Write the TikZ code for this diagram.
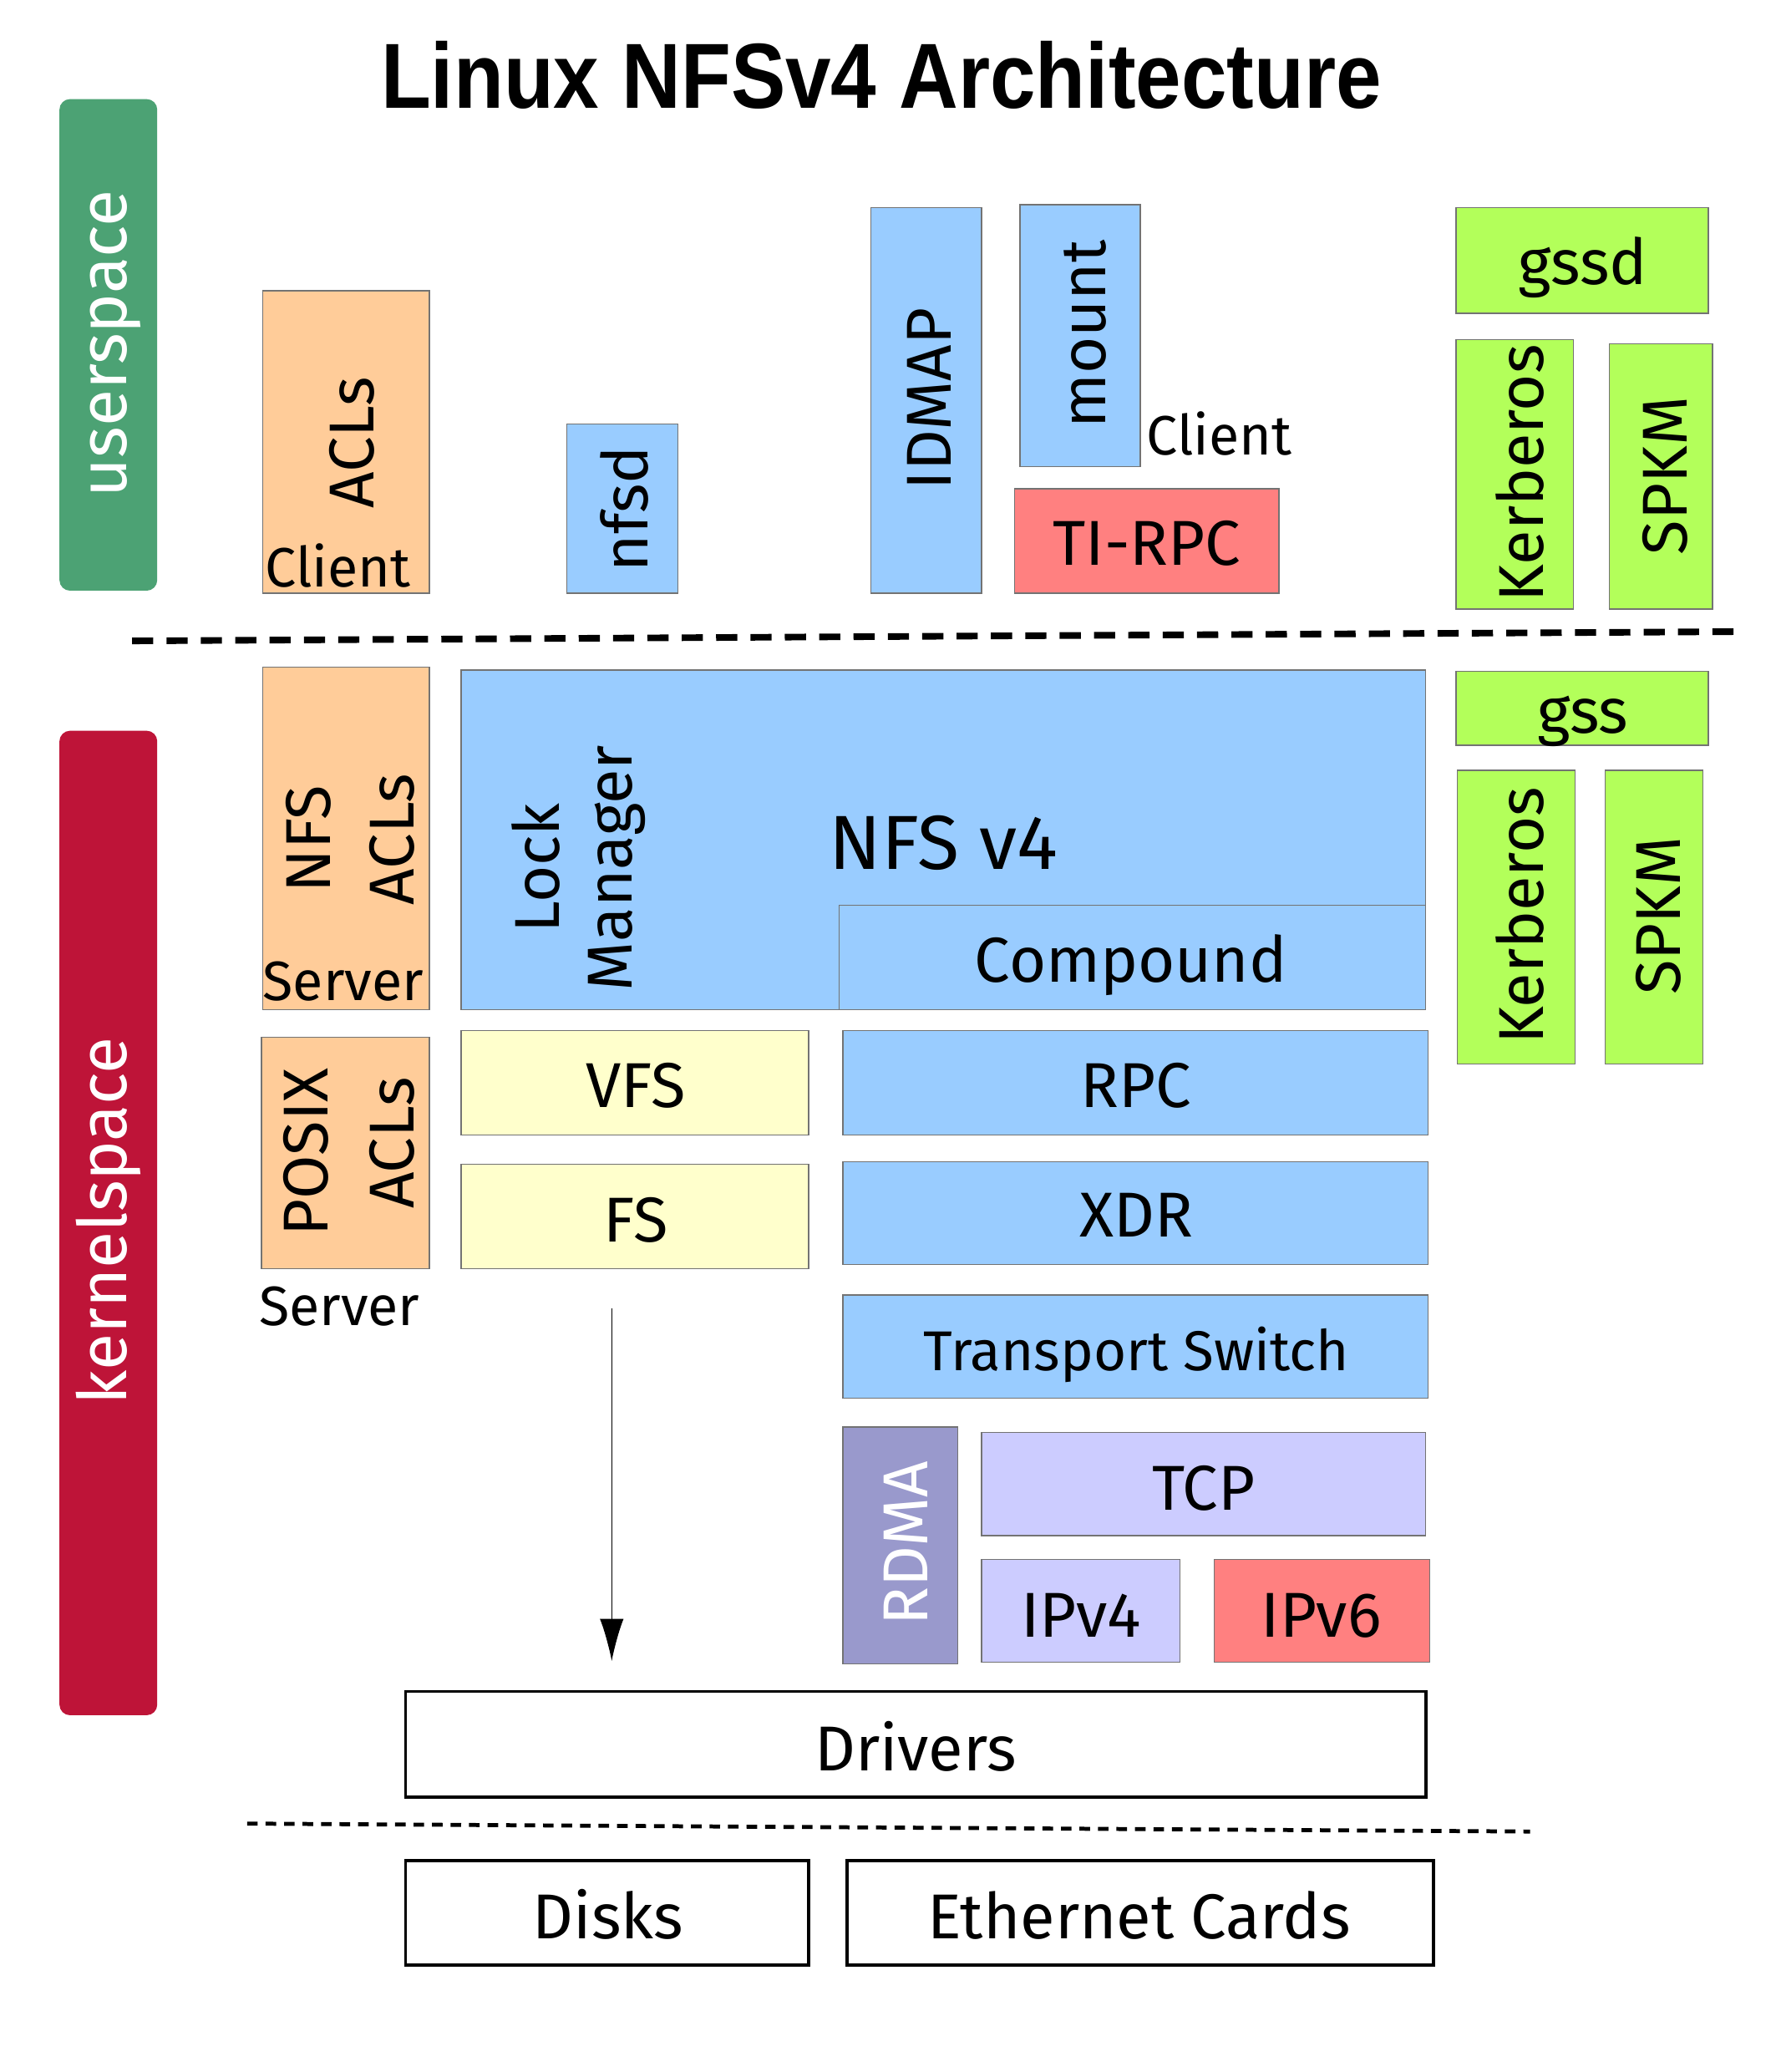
\documentclass[tikz,border=0pt]{standalone}
\usepackage{fontspec}
\setmainfont{Fira Sans}
\newfontfamily\titlefont{Liberation Sans}
\usetikzlibrary{arrows.meta}
\definecolor{peach}{HTML}{FFCC99}
\definecolor{lblue}{HTML}{99CCFF}
\definecolor{lyellow}{HTML}{FFFFCC}
\definecolor{salmon}{HTML}{FF8080}
\definecolor{lime}{HTML}{B3FF5A}
\definecolor{lavender}{HTML}{CCCCFF}
\definecolor{rdmac}{HTML}{9999CC}
\definecolor{usergreen}{HTML}{4CA274}
\definecolor{kernred}{HTML}{BE1438}
\tikzset{
  blk/.style={draw=black!55, line width=0.9pt, rectangle, inner sep=0pt, outer sep=0pt},
  bar/.style={rectangle, rounded corners=8pt, inner sep=0pt, outer sep=0pt},
  hardbox/.style={draw=black, line width=2.4pt, fill=white},
  lbl/.style={inner sep=0pt, outer sep=0pt, anchor=base, font=\fontsize{48}{58}\selectfont},
  vlbl/.style={lbl, rotate=90},
  sidelbl/.style={inner sep=0pt, outer sep=0pt, anchor=base west, font=\fontsize{42}{50}\selectfont},
  barlbl/.style={vlbl, text=white, font=\fontsize{51}{60}\selectfont},
}
\newcommand\blk[6]{\node[blk,#6,minimum width={#4pt-#2pt},minimum height={#5pt-#3pt}] (#1) at ({(#2+#4)/2},{(#3+#5)/2}) {};}
\begin{document}
\begin{tikzpicture}[x=1pt,y=-1pt]
\useasboundingbox (0,0) rectangle (1344,1568);
% title
\node[inner sep=0pt, anchor=base] (title) at (667,82) {\titlefont\bfseries\fontsize{70}{80}\selectfont\scalebox{0.885}[1]{Linux NFSv4 Architecture}};
% side bars
\blk{ubar}{45}{75}{119}{447}{bar, draw=none, fill=usergreen}
\blk{kbar}{45}{553}{119}{1298}{bar, draw=none, fill=kernred}
\node[barlbl] (tuser) at (96,260) {userspace};
\node[barlbl] (tkern) at (96,924) {kernelspace};
% separators
\coordinate (sepAa) at (100,485);
\coordinate (sepAb) at (1313,478);
\coordinate (sepBa) at (187,1380);
\coordinate (sepBb) at (1158,1386);
\draw[line width=5pt, dash pattern=on 16pt off 10pt] (sepAa) -- (sepAb);
\draw[line width=3pt, dash pattern=on 8pt off 6pt] (sepBa) -- (sepBb);
% userspace
\blk{uacl}{199}{220}{325}{449}{fill=peach}
\node[vlbl] (tuacl) at (283,335) {ACLs};
\node[sidelbl] (tuclient) at (201,444) {Client};
\blk{nfsd}{429}{321}{513}{449}{fill=lblue}
\node[vlbl] (tnfsd) at (490,385) {nfsd};
\blk{idmap}{659}{157}{743}{449}{fill=lblue}
\node[vlbl] (tidmap) at (720,302) {IDMAP};
\blk{mount}{772}{155}{863}{353}{fill=lblue}
\node[vlbl] (tmount) at (837,253) {mount};
\node[sidelbl] (tmclient) at (868,344) {Client};
\blk{tirpc}{768}{370}{968}{449}{fill=salmon}
\node[lbl] (ttirpc) at (868,428) {TI-RPC};
\blk{gssd}{1102}{157}{1293}{237}{fill=lime}
\node[lbl] (tgssd) at (1198,215) {gssd};
\blk{ukrb}{1102}{257}{1191}{461}{fill=lime}
\node[vlbl] (tukrb) at (1168,358) {Kerberos};
\blk{uspkm}{1218}{260}{1296}{461}{fill=lime}
\node[vlbl] (tuspkm) at (1277,360) {SPKM};
% kernelspace
\blk{nfsacl}{199}{505}{325}{764}{fill=peach}
\node[vlbl] (tnfsa) at (250,635) {NFS};
\node[vlbl] (tnfsb) at (313,635) {ACLs};
\node[sidelbl] (tserva) at (199,757) {Server};
\blk{nfs}{349}{507}{1079}{764}{fill=lblue}
\node[lbl, font=\fontsize{58}{68}\selectfont] (tnfs) at (714,658) {NFS v4};
\node[vlbl] (tlock) at (423,657) {Lock};
\node[vlbl] (tmgr) at (478,657) {Manager};
\blk{comp}{635}{685}{1079}{764}{fill=lblue}
\node[lbl] (tcomp) at (856,743) {Compound};
\blk{posix}{198}{785}{325}{960}{fill=peach}
\node[vlbl] (tposa) at (248,872) {POSIX};
\node[vlbl] (tposb) at (313,865) {ACLs};
\node[sidelbl] (tservb) at (196,1003) {Server};
\blk{vfs}{349}{780}{612}{859}{fill=lyellow}
\node[lbl] (tvfs) at (481,838) {VFS};
\blk{fs}{349}{881}{612}{960}{fill=lyellow}
\node[lbl] (tfs) at (481,940) {FS};
\blk{rpc}{638}{780}{1081}{859}{fill=lblue}
\node[lbl] (trpc) at (860,838) {RPC};
\blk{xdr}{638}{879}{1081}{957}{fill=lblue}
\node[lbl] (txdr) at (860,936) {XDR};
\blk{tsw}{638}{980}{1081}{1058}{fill=lblue}
\node[lbl, font=\fontsize{42.5}{52}\selectfont] (ttsw) at (860,1037) {Transport Switch};
\blk{rdma}{638}{1080}{725}{1259}{fill=rdmac}
\node[vlbl, text=white] (trdma) at (702,1168) {RDMA};
\blk{tcp}{743}{1084}{1079}{1162}{fill=lavender}
\node[lbl] (ttcp) at (911,1143) {TCP};
\blk{ipv4}{743}{1180}{893}{1258}{fill=lavender}
\node[lbl] (tipv4) at (818,1239) {IPv4};
\blk{ipv6}{919}{1180}{1082}{1258}{fill=salmon}
\node[lbl] (tipv6) at (1000,1239) {IPv6};
\blk{gss}{1102}{508}{1293}{564}{fill=lime}
\node[lbl] (tgss) at (1198,555) {gss};
\blk{kkrb}{1103}{583}{1192}{805}{fill=lime}
\node[vlbl] (tkkrb) at (1168,693) {Kerberos};
\blk{kspkm}{1215}{583}{1289}{805}{fill=lime}
\node[vlbl] (tkspkm) at (1272,693) {SPKM};
% hardware
\blk{drv}{307}{1280}{1079}{1360}{hardbox}
\node[lbl] (tdrv) at (693,1340) {Drivers};
\blk{disks}{307}{1408}{612}{1487}{hardbox}
\node[lbl] (tdisks) at (460,1467) {Disks};
\blk{eth}{641}{1408}{1085}{1487}{hardbox}
\node[lbl] (teth) at (862,1467) {Ethernet Cards};
% arrow
\coordinate (arrS) at (463,990);
\draw[line width=0.8pt, -{Latex[length=32pt,width=18pt]}, shorten >=23pt] (arrS) -- (arrS |- drv.north);
\end{tikzpicture}
\end{document}
